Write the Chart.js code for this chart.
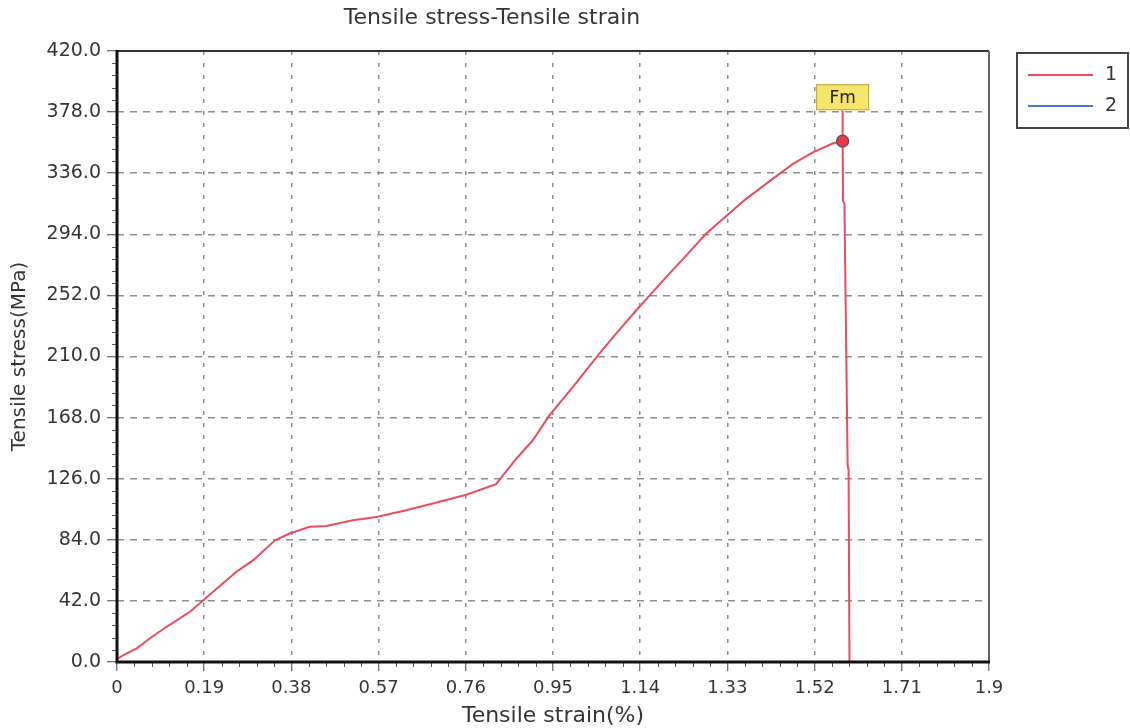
<!DOCTYPE html>
<html><head><meta charset="utf-8">
<script src="https://cdn.jsdelivr.net/npm/chart.js@4.4.1/dist/chart.umd.min.js"></script>
<style>html,body{margin:0;padding:0;background:#fff;overflow:hidden;} #wrap{width:1130px;height:728px;position:relative;}</style>
</head><body><div id="wrap"><canvas id="c" width="1130" height="728"></canvas></div>
<script>
// ---- data ----
const strain = [0, 0.01, 0.043, 0.072, 0.108, 0.159, 0.19, 0.26, 0.297, 0.344, 0.376, 0.42, 0.456, 0.514, 0.565, 0.63, 0.688, 0.761, 0.826, 0.87, 0.906, 0.942, 0.993, 1.051, 1.087, 1.131, 1.167, 1.203, 1.24, 1.283, 1.32, 1.37, 1.428, 1.472, 1.515, 1.559, 1.581, 1.582, 1.585, 1.592, 1.594, 1.596];
const stress = [2, 4, 9.4, 16.3, 24.2, 34.5, 43, 62, 70, 83.7, 88.3, 93, 93.5, 97.4, 99.7, 104.3, 108.9, 115, 122.2, 139.8, 152.4, 169.5, 189, 211.9, 225.6, 241.6, 254.2, 266.8, 279.3, 294.2, 304.5, 318.2, 331.9, 342.2, 350.2, 356.4, 358, 317, 315, 135, 132, 0];
const strain2 = [];
const stress2 = [];
const seriesLabels = ['1', '2'];
const xTickValues = [0, 0.19, 0.38, 0.57, 0.76, 0.95, 1.14, 1.33, 1.52, 1.71, 1.9];
const xTickLabels = ['0', '0.19', '0.38', '0.57', '0.76', '0.95', '1.14', '1.33', '1.52', '1.71', '1.9'];
const yTickValues = [0, 42, 84, 126, 168, 210, 252, 294, 336, 378, 420];
const yTickLabels = ['0.0', '42.0', '84.0', '126.0', '168.0', '210.0', '252.0', '294.0', '336.0', '378.0', '420.0'];
const chartTitle = 'Tensile stress-Tensile strain';
const xTitle = 'Tensile strain(%)';
const yTitle = 'Tensile stress(MPa)';
const peakLabel = 'Fm';

// ---- styles ----
const RED = '#ec4c5c';
const BLUE = '#4a78c8';
const TEXT = '#353535';
const XTICKFONT = {family: 'DejaVu Sans', size: 18};
const YTICKFONT = {family: 'DejaVu Sans', size: 19};

const pts1 = strain.map((x, i) => ({x: x, y: stress[i]}));
const pts2 = strain2.map((x, i) => ({x: x, y: stress2[i]}));
let peakIndex = 0;
stress.forEach((v, i) => { if (v > stress[peakIndex]) peakIndex = i; });

const decor = {
  id: 'decor',
  afterDatasetsDraw(chart) {
    const ctx = chart.ctx, a = chart.chartArea, xs = chart.scales.x, ys = chart.scales.y;
    ctx.save();
    // minor ticks
    ctx.strokeStyle = '#555'; ctx.lineWidth = 1;
    for (let i = 0; i < yTickValues.length - 1; i++) {
      const st = (yTickValues[i + 1] - yTickValues[i]) / 5;
      for (let k = 1; k < 5; k++) {
        const py = Math.round(ys.getPixelForValue(yTickValues[i] + k * st)) + 0.5;
        ctx.beginPath(); ctx.moveTo(a.left - 5, py); ctx.lineTo(a.left, py); ctx.stroke();
      }
    }
    for (let i = 0; i < xTickValues.length - 1; i++) {
      const st = (xTickValues[i + 1] - xTickValues[i]) / 5;
      for (let k = 1; k < 5; k++) {
        const px = Math.round(xs.getPixelForValue(xTickValues[i] + k * st)) + 0.5;
        ctx.beginPath(); ctx.moveTo(px, a.bottom); ctx.lineTo(px, a.bottom + 5); ctx.stroke();
      }
    }
    // frame
    ctx.lineWidth = 2; ctx.strokeStyle = '#333';
    ctx.beginPath(); ctx.moveTo(a.left, a.top); ctx.lineTo(a.right, a.top); ctx.stroke();
    ctx.strokeStyle = '#666';
    ctx.beginPath(); ctx.moveTo(a.right, a.top); ctx.lineTo(a.right, a.bottom); ctx.stroke();
    ctx.lineWidth = 3; ctx.strokeStyle = '#111';
    ctx.beginPath(); ctx.moveTo(a.left, a.top - 1); ctx.lineTo(a.left, a.bottom); ctx.lineTo(a.right + 1, a.bottom); ctx.stroke();

    // Fm annotation
    const px = xs.getPixelForValue(strain[peakIndex]);
    const py = ys.getPixelForValue(stress[peakIndex]);
    const bw = 53, bh = 26, bb = py - 31;
    ctx.strokeStyle = RED; ctx.lineWidth = 2;
    ctx.beginPath(); ctx.moveTo(px, bb); ctx.lineTo(px, py); ctx.stroke();
    ctx.fillStyle = '#f6e46c'; ctx.strokeStyle = '#b9a64a'; ctx.lineWidth = 1;
    ctx.fillRect(px - bw / 2, bb - bh, bw, bh);
    ctx.strokeRect(px - bw / 2 + 0.5, bb - bh + 0.5, bw - 1, bh - 1);
    ctx.fillStyle = '#222'; ctx.font = '17px "DejaVu Sans"'; ctx.textAlign = 'center'; ctx.textBaseline = 'middle';
    ctx.fillText(peakLabel, px, bb - bh / 2 + 1);
    // peak marker
    ctx.beginPath(); ctx.arc(px, py, 6, 0, Math.PI * 2);
    ctx.fillStyle = '#e8384a'; ctx.fill();
    ctx.strokeStyle = '#555'; ctx.lineWidth = 1.2; ctx.stroke();

    // titles
    ctx.fillStyle = TEXT; ctx.textAlign = 'center'; ctx.textBaseline = 'middle';
    ctx.font = '22px "DejaVu Sans"';
    ctx.fillText(chartTitle, 492, 18);
    ctx.fillText(xTitle, (a.left + a.right) / 2, 716);
    ctx.font = '20px "DejaVu Sans"';
    ctx.save(); ctx.translate(20, (a.top + a.bottom) / 2); ctx.rotate(-Math.PI / 2);
    ctx.fillText(yTitle, 0, 0); ctx.restore();

    // legend
    const lx = 1017, ly = 53, lw = 111, lh = 75;
    ctx.fillStyle = '#fff'; ctx.fillRect(lx, ly, lw, lh);
    ctx.strokeStyle = '#444'; ctx.lineWidth = 2; ctx.strokeRect(lx, ly, lw, lh);
    chart.data.datasets.forEach((ds, i) => {
      const yy = ly + 22 + i * 31;
      ctx.strokeStyle = ds.borderColor; ctx.lineWidth = 2;
      ctx.beginPath(); ctx.moveTo(lx + 11, yy); ctx.lineTo(lx + 76, yy); ctx.stroke();
      ctx.fillStyle = TEXT; ctx.font = '19px "DejaVu Sans"'; ctx.textAlign = 'center';
      ctx.fillText(ds.label, lx + 94, yy);
    });
    ctx.restore();
  }
};

new Chart(document.getElementById('c'), {
  type: 'line',
  data: {
    datasets: [
      {label: seriesLabels[0], data: pts1, borderColor: RED, borderWidth: 2, pointRadius: 0, tension: 0, fill: false},
      {label: seriesLabels[1], data: pts2, borderColor: BLUE, borderWidth: 2, pointRadius: 0, tension: 0, fill: false}
    ]
  },
  options: {
    responsive: false, animation: false, devicePixelRatio: 1,
    layout: {padding: {top: 51, right: 141, left: 0, bottom: 0}},
    plugins: {legend: {display: false}, title: {display: false}, tooltip: {enabled: false}},
    scales: {
      x: {
        type: 'linear', min: 0, max: 1.9,
        afterBuildTicks: s => { s.ticks = xTickValues.map(v => ({value: v})); },
        afterFit: s => { s.height = 66; },
        ticks: {font: XTICKFONT, color: TEXT, padding: 7, maxRotation: 0, autoSkip: false,
          callback: (v, i) => xTickLabels[i]},
        grid: {color: '#8e8e8e', lineWidth: 1.5, tickLength: 9, tickColor: '#444', tickWidth: 1, tickBorderDash: []},
        border: {display: false, dash: [4, 8]}
      },
      y: {
        type: 'linear', min: 0, max: 420,
        afterBuildTicks: s => { s.ticks = yTickValues.map(v => ({value: v})); },
        afterFit: s => { s.width = 117; },
        ticks: {font: YTICKFONT, color: TEXT, padding: 6, autoSkip: false,
          callback: (v, i) => yTickLabels[i]},
        grid: {color: '#8e8e8e', lineWidth: 1.5, tickLength: 10, tickColor: '#444', tickWidth: 1, tickBorderDash: []},
        border: {display: false, dash: [7, 6]}
      }
    }
  },
  plugins: [decor]
});
</script>
</body></html>
